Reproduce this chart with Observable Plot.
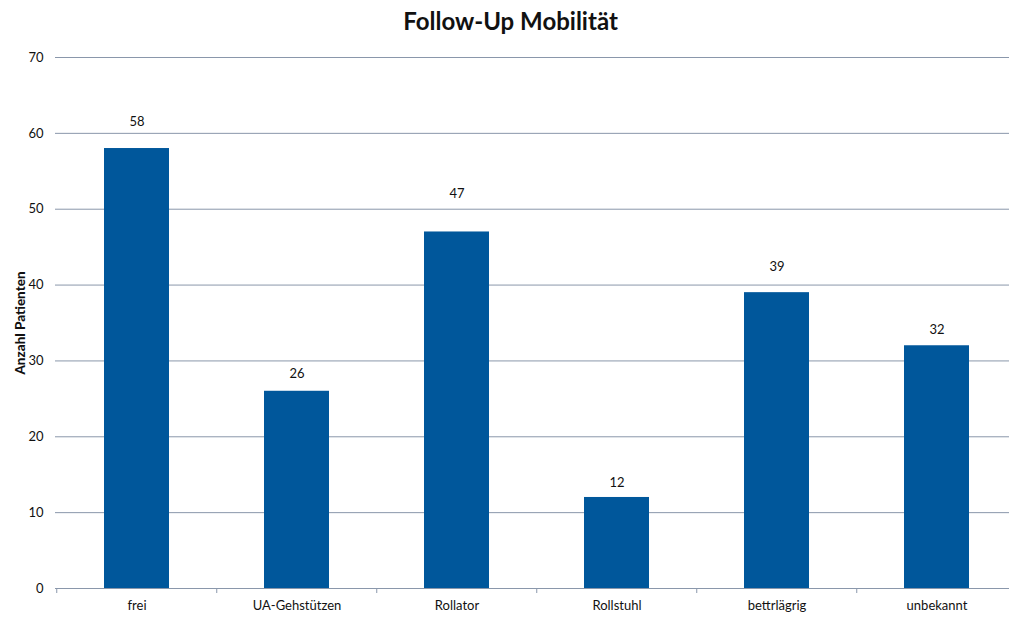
<!DOCTYPE html>
<html>
<head>
<meta charset="utf-8">
<script src="https://cdn.jsdelivr.net/npm/d3@7"></script>
<script src="https://cdn.jsdelivr.net/npm/@observablehq/plot@0.6"></script>
<style>
  body { margin: 0; background: #fff; font-family: Lato, "Open Sans", sans-serif; }
  #title { height: 40px; line-height: 42px; text-align: center; font-size: 24px; font-weight: bold; color: #111; padding-left: 12px; }
  g[aria-label="y-axis label"] text { font-weight: 900; font-size: 13.5px; }
</style>
</head>
<body>
<div id="title">Follow-Up Mobilität</div>
<div id="chart"></div>
<script>
const categories = ["frei", "UA-Gehstützen", "Rollator", "Rollstuhl", "bettrlägrig", "unbekannt"];
const values = [58, 26, 47, 12, 39, 32];
const yTicks = [0, 10, 20, 30, 40, 50, 60, 70];
// label gap above each bar (pixels), as placed in the original
const labelGaps = [27, 17, 38, 15, 26, 16];

const data = categories.map((c, i) => ({category: c, value: values[i]}));

const width = 1009, height = 579;
const x0 = 55, x1 = 1018;
const band = (x1 - x0) / categories.length;

const chart = Plot.plot({
  width, height,
  marginTop: 17, marginBottom: 31, marginLeft: 55, marginRight: 0,
  style: {fontFamily: "Lato, 'Open Sans', sans-serif", fontSize: "13px", color: "#111", background: "#fff"},
  x: {domain: categories, range: [x0, x1], paddingInner: 0.595, paddingOuter: 0.2975, align: 0.5},
  y: {domain: [0, 70], ticks: yTicks},
  marks: [
    Plot.gridY(yTicks, {stroke: "#8a97ab", strokeOpacity: 1, strokeWidth: 1}),
    Plot.axisY(yTicks, {tickSize: 0, tickPadding: 12, label: "Anzahl Patienten", labelAnchor: "center", labelOffset: 40, labelArrow: "none"}),
    Plot.axisX({tickSize: 0, tickPadding: 12, label: null}),
    Plot.barY(data, {x: "category", y: "value", fill: "#00579b"}),
    Plot.ruleY([0], {stroke: "#8a97ab"}),
    Plot.ruleX(categories, {x: d => d, dx: -band / 2, stroke: "#8a97ab", insetTop: 531, insetBottom: -5}),
    ...data.map((d, i) => Plot.text([d], {x: "category", y: "value", text: d => String(d.value), dy: -labelGaps[i], fill: "#111", fontSize: 13}))
  ]
});
document.getElementById("chart").appendChild(chart);
</script>
</body>
</html>
